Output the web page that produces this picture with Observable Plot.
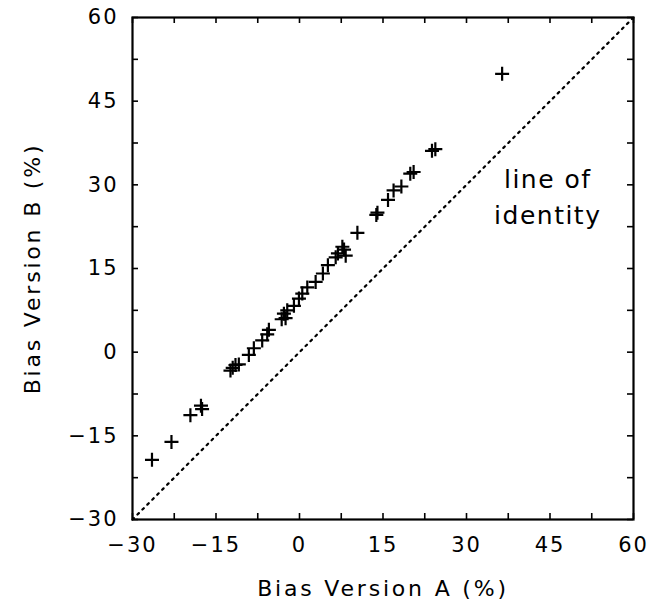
<!DOCTYPE html>
<html>
<head>
<meta charset="utf-8">
<script src="https://cdn.jsdelivr.net/npm/d3@7"></script>
<script src="https://cdn.jsdelivr.net/npm/@observablehq/plot@0.6"></script>
<style>
  html, body { margin: 0; padding: 0; background: #fff; }
  svg { display: block; }
  g[aria-label="x-axis tick label"] text, g[aria-label="y-axis tick label"] text { letter-spacing: 2px; }
  g[aria-label="x-axis label"] text, g[aria-label="y-axis label"] text { letter-spacing: 2.8px; }
  g[aria-label="text"] text { letter-spacing: 1.5px; }
</style>
</head>
<body>
<div id="chart"></div>
<script>
// Bias (%) of version A vs version B
const biasA = [-26.5, -23.0, -19.6, -17.7, -17.5, -12.4, -12.0, -11.5, -10.9, -9.1,
  -8.2, -6.7, -5.8, -5.5, -3.2, -2.8, -2.5, -2.2, -1.0, -0.1,
  0.5, 1.4, 2.9, 4.2, 5.1, 6.5, 6.9, 7.7, 8.0, 8.3,
  10.4, 13.8, 14.0, 15.9, 16.9, 18.3, 19.9, 20.5, 23.8, 24.4, 36.4];
const biasB = [-19.3, -16.1, -11.3, -9.6, -10.2, -3.3, -2.8, -2.3, -2.2, -0.5,
  0.7, 2.1, 3.2, 4.0, 5.9, 6.9, 6.1, 7.5, 8.3, 9.6,
  10.5, 11.6, 12.6, 14.1, 15.6, 17.0, 17.7, 18.9, 18.4, 17.3,
  21.4, 24.6, 25.0, 27.3, 29.0, 29.7, 32.0, 32.3, 36.1, 36.4, 49.9];
const identityLine = [-30, 60];
const labelTicks = [-30, -15, 0, 15, 30, 45, 60];
const minorTicks = [-30, -22.5, -15, -7.5, 0, 7.5, 15, 22.5, 30, 37.5, 45, 52.5, 60];
const annotation = ["line of", "identity"];
const annotationX = [44.6, 44.6];
const annotationY = [30.8, 24.4];

const points = biasA.map((a, i) => ({a, b: biasB[i]}));
const notes = annotation.map((t, i) => ({t, x: annotationX[i], y: annotationY[i]}));

const W = 652, H = 604, mL = 132, mR = 19, mT = 17, mB = 85, TICK = 6;
const innerW = W - mL - mR, innerH = H - mT - mB;

const plusSymbol = {
  draw(context, size) {
    const r = Math.sqrt(size / Math.PI);
    context.moveTo(-r, 0); context.lineTo(r, 0);
    context.moveTo(0, -r); context.lineTo(0, r);
  }
};

const fmt = d => (d < 0 ? "\u2212" + Math.abs(d) : String(d));

const chart = Plot.plot({
  width: W,
  height: H,
  marginLeft: mL,
  marginRight: mR,
  marginTop: mT,
  marginBottom: mB,
  style: {fontFamily: "'DejaVu Sans', sans-serif", fontSize: "20px", color: "#000", background: "#fff"},
  x: {domain: [-30, 60]},
  y: {domain: [-30, 60]},
  marks: [
    Plot.line(identityLine, {x: d => d, y: d => d, stroke: "#000", strokeWidth: 2.2, strokeDasharray: "2,5"}),
    Plot.dot(points, {x: "a", y: "b", symbol: plusSymbol, r: 7, stroke: "#000", strokeWidth: 2.2, fill: "none"}),
    Plot.text(notes, {x: "x", y: "y", text: "t", fontSize: 25, fill: "#000", textAnchor: "middle"}),
    // inward tick marks on all four sides
    Plot.tickX(minorTicks, {x: d => d, insetTop: innerH - TICK, stroke: "#000", strokeWidth: 1.6}),
    Plot.tickX(minorTicks, {x: d => d, insetBottom: innerH - TICK, stroke: "#000", strokeWidth: 1.6}),
    Plot.tickY(minorTicks, {y: d => d, insetRight: innerW - TICK, stroke: "#000", strokeWidth: 1.6}),
    Plot.tickY(minorTicks, {y: d => d, insetLeft: innerW - TICK, stroke: "#000", strokeWidth: 1.6}),
    // labels
    Plot.axisX(labelTicks, {anchor: "bottom", tickSize: 0, tickPadding: 18, tickFormat: fmt, fontSize: 21,
      label: "Bias Version A (%)", labelAnchor: "center", labelArrow: "none", labelOffset: 76}),
    Plot.axisY(labelTicks, {anchor: "left", tickSize: 0, tickPadding: 14, tickFormat: fmt, fontSize: 21,
      label: "Bias Version B (%)", labelAnchor: "center", labelArrow: "none", labelOffset: 108}),
    Plot.frame({stroke: "#000", strokeWidth: 2.2})
  ]
});
chart.querySelectorAll('g[aria-label="x-axis label"], g[aria-label="y-axis label"]').forEach(g => g.setAttribute("font-size", 22));
document.getElementById("chart").appendChild(chart);
</script>
</body>
</html>
